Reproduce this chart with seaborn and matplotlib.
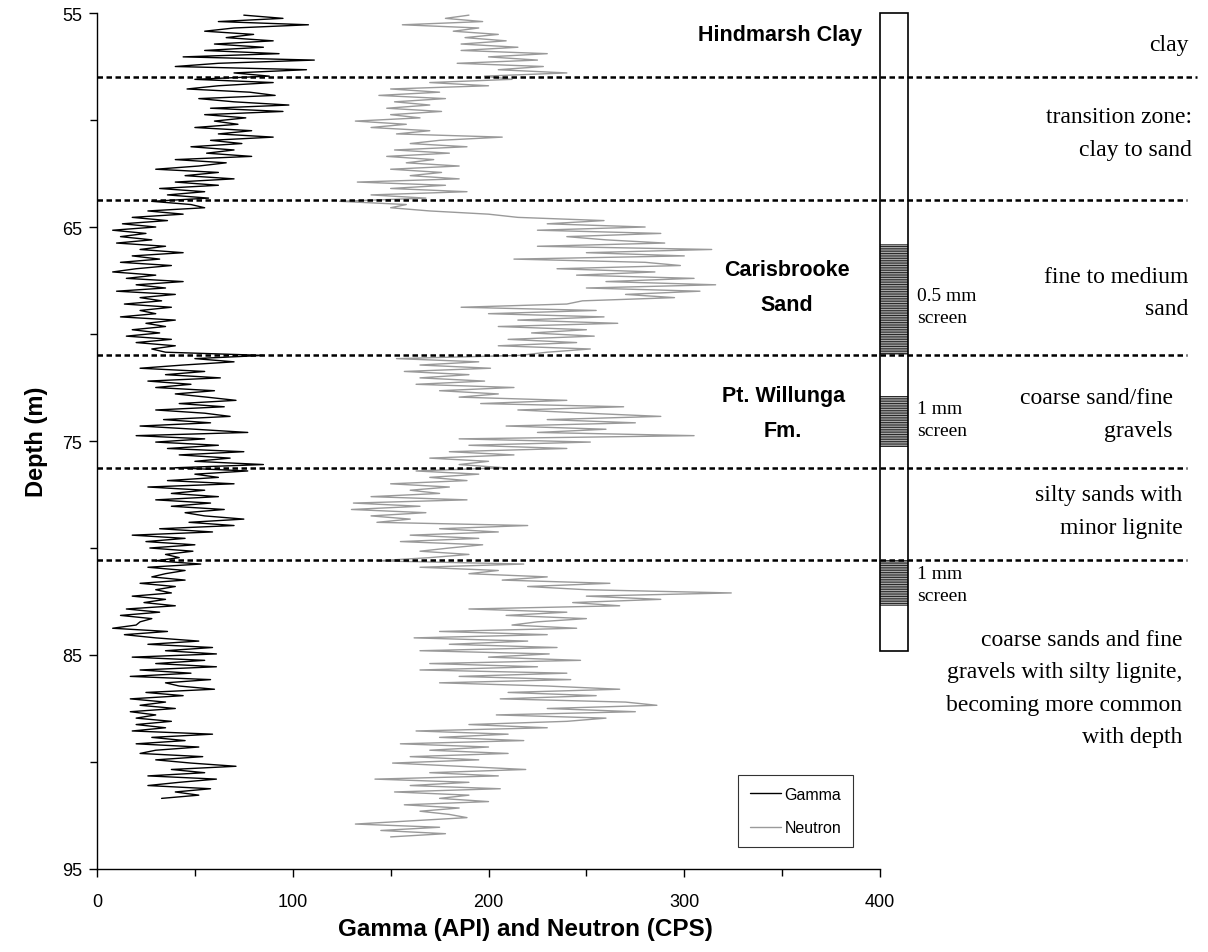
import numpy as np
import pandas as pd
import seaborn as sns
import matplotlib.pyplot as plt
from matplotlib.patches import Rectangle

sns.set_theme(style="white", rc={"text.color": "black", "axes.labelcolor": "black",
                                 "xtick.color": "black", "ytick.color": "black",
                                 "axes.edgecolor": "black"})
plt.rcParams["font.family"] = ["Liberation Sans", "DejaVu Sans"]
plt.rcParams["hatch.linewidth"] = 0.8

# log sampling (m)
DEPTH_TOP = 55.1
DEPTH_STEP = 0.15

# gamma log (API), every 0.15 m
gamma_api = [
    75, 95, 62, 108, 70, 55, 80, 66, 90, 60,
    85, 55, 93, 44, 111, 62, 40, 107, 70, 88,
    50, 90, 62, 46, 78, 91, 52, 70, 98, 58,
    95, 55, 76, 60, 72, 50, 79, 62, 90, 58,
    74, 48, 70, 56, 79, 40, 66, 52, 30, 62,
    45, 70, 40, 62, 32, 55, 36, 57, 28, 48,
    55, 26, 44, 18, 36, 13, 30, 8, 25, 12,
    28, 10, 35, 22, 44, 18, 32, 12, 38, 20,
    8, 30, 15, 44, 20, 35, 10, 40, 22, 33,
    14, 38, 22, 30, 12, 40, 25, 35, 18, 32,
    15, 38, 20, 40, 28, 35, 85, 50, 70, 44,
    22, 55, 35, 63, 26, 48, 30, 60, 40, 56,
    71, 42, 65, 30, 55, 68, 34, 58, 22, 50,
    77, 20, 55, 30, 62, 36, 75, 42, 68, 50,
    85, 40, 77, 50, 62, 36, 70, 26, 55, 38,
    62, 30, 58, 38, 65, 45, 55, 75, 47, 70,
    32, 59, 18, 45, 25, 50, 27, 49, 35, 42,
    30, 53, 26, 45, 35, 28, 45, 22, 40, 30,
    38, 18, 35, 24, 40, 15, 32, 12, 28, 22,
    20, 8, 36, 14, 30, 52, 26, 59, 35, 61,
    18, 55, 30, 61, 22, 48, 17, 58, 35, 42,
    60, 25, 44, 17, 35, 22, 40, 17, 30, 20,
    38, 20, 35, 18, 59, 28, 45, 20, 52, 30,
    22, 54, 30, 48, 71, 38, 55, 26, 61, 42,
    26, 58, 40, 52, 33,
]

# neutron log (CPS), same sampling
neutron_cps = [
    190, 178, 197, 156, 195, 182, 205, 188, 209, 186,
    215, 186, 230, 200, 225, 184, 228, 205, 240, 198,
    212, 170, 200, 150, 175, 144, 178, 152, 170, 148,
    176, 150, 165, 132, 158, 140, 170, 153, 207, 175,
    160, 189, 152, 180, 148, 172, 158, 185, 150, 176,
    160, 185, 133, 178, 150, 189, 140, 168, 124, 158,
    150, 170, 200, 215, 259, 230, 280, 225, 288, 240,
    260, 290, 225, 314, 250, 300, 213, 280, 298, 235,
    285, 245, 305, 260, 316, 250, 308, 270, 295, 248,
    240, 186, 255, 200, 259, 215, 266, 205, 250, 222,
    254, 210, 245, 205, 252, 230, 216, 153, 195, 165,
    201, 157, 190, 165, 198, 163, 213, 175, 205, 185,
    240, 196, 269, 215, 250, 288, 230, 275, 209, 260,
    225, 305, 185, 252, 190, 240, 180, 213, 170, 200,
    185, 208, 163, 195, 170, 189, 150, 180, 160, 175,
    140, 189, 131, 165, 130, 168, 140, 160, 143, 220,
    175, 205, 160, 195, 155, 197, 180, 165, 190, 170,
    143, 218, 165, 205, 190, 230, 207, 262, 220, 250,
    324, 250, 288, 243, 267, 190, 240, 209, 250, 225,
    212, 245, 175, 230, 162, 220, 180, 235, 165, 231,
    200, 247, 170, 225, 165, 240, 185, 242, 175, 230,
    267, 210, 255, 206, 270, 286, 230, 275, 204, 260,
    240, 190, 230, 163, 210, 175, 218, 155, 200, 170,
    210, 160, 195, 151, 185, 219, 170, 205, 142, 190,
    160, 206, 152, 190, 175, 200, 157, 185, 165, 180,
    189, 160, 132, 175, 145, 178, 150,
]

gamma_depth = DEPTH_TOP + DEPTH_STEP * np.arange(len(gamma_api))
neutron_depth = DEPTH_TOP + DEPTH_STEP * np.arange(len(neutron_cps))

# unit boundaries (m)
boundary_depths = [58.0, 63.75, 71.0, 76.25, 80.55]
boundary_ends = [562, 557, 557, 557, 557]

# well screen column (m)
column_top, column_base = 55.0, 84.8
screen_tops = [65.8, 72.9, 80.55]
screen_bases = [71.0, 75.3, 82.7]
screen_labels = ["0.5 mm\nscreen", "1 mm\nscreen", "1 mm\nscreen"]
screen_label_depths = [68.7, 74.0, 81.7]

formations = ["Hindmarsh Clay", "Carisbrooke\nSand", "Pt. Willunga\nFm."]
formation_depths = [56.0, 67.8, 73.7]
formation_x = [349, 352.5, 350.5]

lithology = ["clay",
             "transition zone:\nclay to sand",
             "fine to medium\nsand",
             "coarse sand/fine\ngravels",
             "silty sands with\nminor lignite",
             "coarse sands and fine\ngravels with silty lignite,\nbecoming more common\nwith depth"]
lithology_depths = [56.45, 60.6, 68.05, 73.75, 78.27, 86.55]
lithology_right = [557.5, 559.5, 557.5, 549.5, 554.5, 554.5]

depth_ticks = [55, 65, 75, 85, 95]
depth_minor = [60, 70, 80, 90]
value_ticks = [0, 100, 200, 300, 400]
value_minor = [50, 150, 250, 350]

fig, ax = plt.subplots(figsize=(12.08, 9.53), dpi=100)
fig.subplots_adjust(left=0.0803, right=0.7285, bottom=0.0871, top=0.9853)

gamma_df = pd.DataFrame({"value": gamma_api, "depth": gamma_depth})
neutron_df = pd.DataFrame({"value": neutron_cps, "depth": neutron_depth})

sns.lineplot(data=gamma_df, x="value", y="depth", orient="y", estimator=None,
             color="black", lw=1.0, label="Gamma", ax=ax)
sns.lineplot(data=neutron_df, x="value", y="depth", orient="y", estimator=None,
             color="#9a9a9a", lw=1.0, label="Neutron", ax=ax)

ax.set_xlim(0, 400)
ax.set_ylim(95, 55)

# boundaries
for d, xe in zip(boundary_depths, boundary_ends):
    ax.plot([0, xe], [d, d], color="black", lw=1.8, dashes=(2.2, 1.4),
            clip_on=False, zorder=5)

# screen column
col_w = 14.5
ax.add_patch(Rectangle((400, column_top), col_w, column_base - column_top,
                       facecolor="white", edgecolor="none", clip_on=False, zorder=3))
for top, base in zip(screen_tops, screen_bases):
    ax.add_patch(Rectangle((400, top), col_w, base - top, facecolor="#a8a8a8",
                           edgecolor="#2a2a2a", lw=0, hatch="-------",
                           clip_on=False, zorder=3.2))
ax.add_patch(Rectangle((400, column_top), col_w, column_base - column_top,
                       fill=False, edgecolor="black", lw=1.2, clip_on=False, zorder=3.4))

for lab, d in zip(screen_labels, screen_label_depths):
    ax.text(419, d, lab, ha="left", va="center", fontsize=14,
            family="Liberation Serif", linespacing=1.4, clip_on=False)

for lab, d, x in zip(formations, formation_depths, formation_x):
    ax.text(x, d, lab, ha="center", va="center", fontsize=15.5, fontweight="bold",
            linespacing=1.9, clip_on=False)

for lab, d, x in zip(lithology, lithology_depths, lithology_right):
    ax.text(x, d, lab, ha="right", va="center", fontsize=17, multialignment="right",
            family="Liberation Serif", linespacing=1.72, clip_on=False)

# axes
ax.set_yticks(depth_ticks)
ax.set_yticks(depth_minor, minor=True)
ax.set_xticks(value_ticks)
ax.set_xticks(value_minor, minor=True)
ax.tick_params(which="both", direction="out", width=1, left=True, bottom=True)
ax.tick_params(axis="x", which="major", length=6, pad=11, labelsize=13)
ax.tick_params(axis="x", which="minor", length=5)
ax.tick_params(axis="y", which="major", length=6, pad=4.5, labelsize=13)
ax.tick_params(axis="y", which="minor", length=5)
sns.despine(ax=ax)
ax.spines["left"].set_linewidth(1.0)
ax.spines["bottom"].set_linewidth(1.0)

ax.set_xlabel("Gamma (API) and Neutron (CPS)", fontsize=17.5, fontweight="bold")
ax.xaxis.set_label_coords(0.547, -0.056)
ax.set_ylabel("Depth (m)", fontsize=17, fontweight="bold")
ax.yaxis.set_label_coords(-0.063, 0.5)

leg = ax.legend(loc="upper left", bbox_to_anchor=(0.819, 0.110), frameon=True,
                fancybox=False, edgecolor="black", fontsize=11.5, handlelength=1.9,
                handletextpad=0.25, borderaxespad=0, borderpad=0.75, labelspacing=1.15)
leg.get_frame().set_linewidth(0.8)

plt.savefig("out.png", dpi=100)
plt.close()
